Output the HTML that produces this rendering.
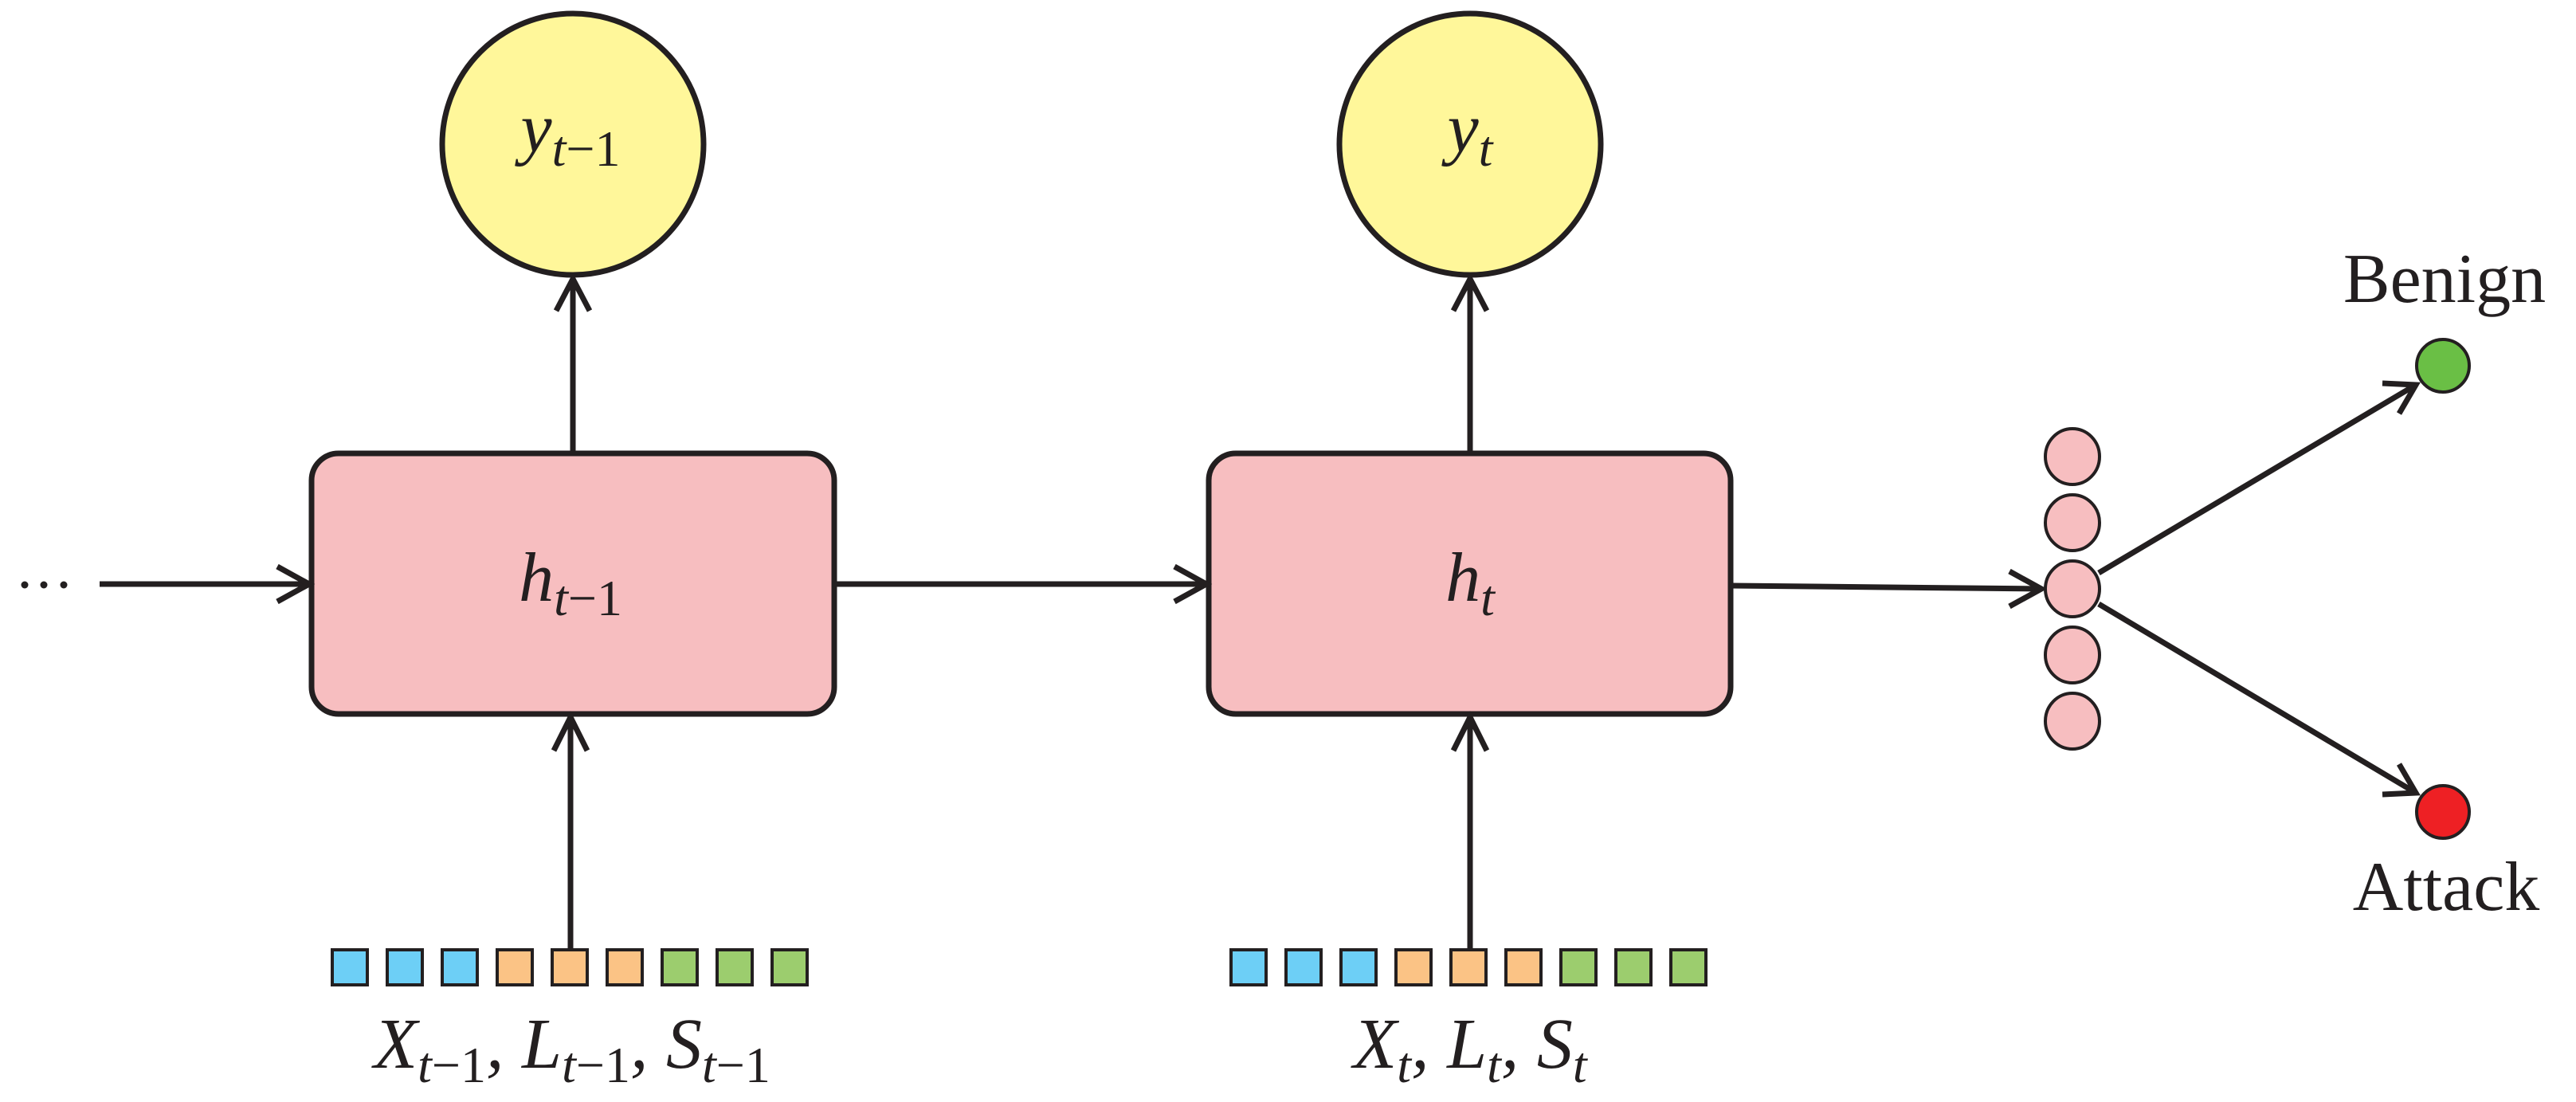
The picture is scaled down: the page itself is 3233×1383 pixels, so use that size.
<!DOCTYPE html>
<html><head><meta charset="utf-8"><style>html,body{margin:0;padding:0;background:#fff}svg{display:block}</style></head><body>
<svg width="3233" height="1383" viewBox="0 0 3233 1383" xmlns="http://www.w3.org/2000/svg">
<g stroke="#231f20" stroke-width="7" fill="none" stroke-linecap="butt">
<!-- circles -->
<circle cx="719" cy="181" r="164" fill="#fff79a"/>
<circle cx="1845" cy="181" r="164" fill="#fff79a"/>
<!-- boxes -->
<rect x="391" y="569" width="656" height="327" rx="34" fill="#f7bec0"/>
<rect x="1517" y="569" width="655" height="327" rx="34" fill="#f7bec0"/>
<!-- vertical arrows up to circles -->
<line x1="719" y1="569" x2="719" y2="350"/>
<polyline points="698,390 719,350 740,390"/>
<line x1="1845" y1="569" x2="1845" y2="350"/>
<polyline points="1824,390 1845,350 1866,390"/>
<!-- input arrows -->
<line x1="716" y1="1190" x2="716" y2="900"/>
<polyline points="695,942 716,900 737,942"/>
<line x1="1845" y1="1190" x2="1845" y2="900"/>
<polyline points="1824,942 1845,900 1866,942"/>
<!-- horizontal -->
<line x1="125" y1="733" x2="388" y2="733"/>
<polyline points="348,711 388,733 348,755"/>
<line x1="1047" y1="733" x2="1514" y2="733"/>
<polyline points="1474,711 1514,733 1474,755"/>
<line x1="2172" y1="735" x2="2562" y2="739"/>
<polyline points="2522,717 2562,739 2522,761"/>
<!-- neurons -->
<g stroke-width="4" fill="#f7bec0">
<ellipse cx="2601" cy="573" rx="34" ry="35"/>
<ellipse cx="2601" cy="656" rx="34" ry="35"/>
<ellipse cx="2601" cy="739" rx="34" ry="35"/>
<ellipse cx="2601" cy="822" rx="34" ry="35"/>
<ellipse cx="2601" cy="905" rx="34" ry="35"/>
</g>
<line x1="2634" y1="719" x2="3032" y2="483"/>
<polyline points="2990,481 3032,483 3011,519"/>
<line x1="2634" y1="758" x2="3032" y2="995"/>
<polyline points="3011,959 3032,995 2990,997"/>
<circle cx="3066" cy="459" r="33" stroke-width="4" fill="#6abf45"/>
<circle cx="3066" cy="1019" r="33" stroke-width="4" fill="#ee2024"/>
</g>
<!-- dots -->
<g fill="#231f20"><circle cx="31" cy="734" r="4.5"/><circle cx="55" cy="734" r="4.5"/><circle cx="80" cy="734" r="4.5"/></g>
<!-- squares -->
<g stroke="#231f20" stroke-width="4">
<rect x="417" y="1192" width="44" height="44" fill="#6dcff6"/>
<rect x="486" y="1192" width="44" height="44" fill="#6dcff6"/>
<rect x="555" y="1192" width="44" height="44" fill="#6dcff6"/>
<rect x="624" y="1192" width="44" height="44" fill="#fbc385"/>
<rect x="693" y="1192" width="44" height="44" fill="#fbc385"/>
<rect x="762" y="1192" width="44" height="44" fill="#fbc385"/>
<rect x="831" y="1192" width="44" height="44" fill="#9ccd6e"/>
<rect x="900" y="1192" width="44" height="44" fill="#9ccd6e"/>
<rect x="969" y="1192" width="44" height="44" fill="#9ccd6e"/>
<rect x="1545" y="1192" width="44" height="44" fill="#6dcff6"/>
<rect x="1614" y="1192" width="44" height="44" fill="#6dcff6"/>
<rect x="1683" y="1192" width="44" height="44" fill="#6dcff6"/>
<rect x="1752" y="1192" width="44" height="44" fill="#fbc385"/>
<rect x="1821" y="1192" width="44" height="44" fill="#fbc385"/>
<rect x="1890" y="1192" width="44" height="44" fill="#fbc385"/>
<rect x="1959" y="1192" width="44" height="44" fill="#9ccd6e"/>
<rect x="2028" y="1192" width="44" height="44" fill="#9ccd6e"/>
<rect x="2097" y="1192" width="44" height="44" fill="#9ccd6e"/>
</g>
<g font-family="Liberation Serif, serif" fill="#231f20" text-anchor="middle">
<text x="716" y="190" font-size="88" font-style="italic">y<tspan font-size="64" dy="18">t</tspan><tspan font-size="64" font-style="normal">−1</tspan></text>
<text x="1845" y="190" font-size="88" font-style="italic">y<tspan font-size="64" dy="18">t</tspan></text>
<text x="716" y="754" font-size="88" font-style="italic">h<tspan font-size="64" dy="18">t</tspan><tspan font-size="64" font-style="normal">−1</tspan></text>
<text x="1845" y="754" font-size="88" font-style="italic">h<tspan font-size="64" dy="18">t</tspan></text>
<text x="718" y="1340" font-size="90" font-style="italic">X<tspan font-size="64" dy="18">t</tspan><tspan font-size="64" font-style="normal">−1</tspan><tspan dy="-18">, L</tspan><tspan font-size="64" dy="18">t</tspan><tspan font-size="64" font-style="normal">−1</tspan><tspan dy="-18">, S</tspan><tspan font-size="64" dy="18">t</tspan><tspan font-size="64" font-style="normal">−1</tspan></text>
<text x="1845" y="1340" font-size="90" font-style="italic">X<tspan font-size="64" dy="18">t</tspan><tspan dy="-18">, L</tspan><tspan font-size="64" dy="18">t</tspan><tspan dy="-18">, S</tspan><tspan font-size="64" dy="18">t</tspan></text>
<text x="3068" y="379" font-size="88">Benign</text>
<text x="3070" y="1142" font-size="88">Attack</text>
</g>
</svg>
</body></html>
